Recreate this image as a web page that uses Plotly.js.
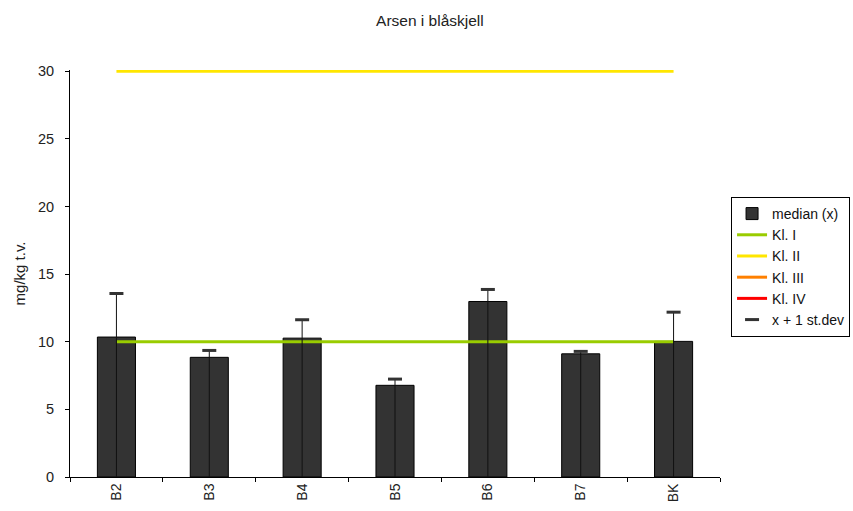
<!DOCTYPE html>
<html>
<head>
<meta charset="utf-8">
<script src="https://cdn.plot.ly/plotly-3.0.1.min.js"></script>
<style>html,body{margin:0;padding:0;background:#fff;}#chart{width:853px;height:511px;}</style>
</head>
<body>
<div id="chart"></div>
<script>
const stations = ["B2", "B3", "B4", "B5", "B6", "B7", "BK"];
const median = [10.35, 8.85, 10.27, 6.78, 12.98, 9.11, 10.03];
const stdev = [3.22, 0.51, 1.36, 0.46, 0.89, 0.18, 2.16];
const klI = [10, 10, 10, 10, 10, 10, 10];
const klII = [30, 30, 30, 30, 30, 30, 30];
const klIII = [100, 100, 100, 100, 100, 100, 100];
const klIV = [200, 200, 200, 200, 200, 200, 200];

const upper = median.map((m, i) => m + stdev[i]);

const font = "Liberation Sans, Arial, sans-serif";
const txt = "#222222";

const traces = [
  {
    type: "bar", name: "median (x)", x: stations, y: median,
    marker: {color: "#333333", line: {color: "#000000", width: 1}}
  },
  {type: "scatter", mode: "lines", name: "Kl. I", x: stations, y: klI, line: {color: "#99cc00", width: 3}},
  {type: "scatter", mode: "lines", name: "Kl. II", x: stations, y: klII, line: {color: "#ffe600", width: 3}},
  {type: "scatter", mode: "lines", name: "Kl. III", x: stations, y: klIII, line: {color: "#ff8000", width: 3}},
  {type: "scatter", mode: "lines", name: "Kl. IV", x: stations, y: klIV, line: {color: "#ff0000", width: 3}},
  {
    type: "scatter", mode: "markers", name: "x + 1 st.dev", x: stations, y: upper,
    marker: {symbol: "line-ew-open", size: 10, color: "#333333", line: {color: "#333333", width: 3}},
    error_y: {type: "data", symmetric: false, array: stations.map(() => 0), arrayminus: upper, color: "#111111", thickness: 1, width: 0},
    cliponaxis: false
  }
];

const layout = {
  width: 853, height: 511,
  margin: {l: 70, r: 133, t: 70, b: 34, autoexpand: false},
  paper_bgcolor: "#ffffff", plot_bgcolor: "#ffffff",
  font: {family: font, size: 14, color: txt},
  title: {text: "Arsen i blåskjell", font: {family: font, size: 15.5, color: txt}, x: 0.504, xanchor: "center", y: 0.96, yanchor: "middle"},
  bargap: 0.59,
  showlegend: true,
  legend: {
    x: 1.017, xanchor: "left", y: 0.688, yanchor: "top",
    bordercolor: "#000000", borderwidth: 1, bgcolor: "#ffffff",
    font: {family: font, size: 14, color: "#111111"},
    itemwidth: 30, tracegroupgap: 0
  },
  xaxis: {
    type: "category", showline: true, linecolor: "#000000", linewidth: 1,
    ticks: "outside", ticklen: 4, tickcolor: "#000000", tickson: "boundaries",
    tickangle: -90, showgrid: false, zeroline: false,
    tickfont: {family: font, size: 14, color: txt}
  },
  yaxis: {
    range: [0, 30.1], tickvals: [0, 5, 10, 15, 20, 25, 30], showline: true, linecolor: "#000000", linewidth: 1,
    ticks: "outside", ticklen: 4, tickcolor: "#000000", showgrid: false, zeroline: false,
    ticklabelstandoff: 8,
    tickfont: {family: font, size: 14.5, color: txt},
    title: {text: "mg/kg t.v.", font: {family: font, size: 15, color: txt}, standoff: 8}
  }
};

Plotly.newPlot("chart", traces, layout, {displayModeBar: false, staticPlot: true});
</script>
</body>
</html>
